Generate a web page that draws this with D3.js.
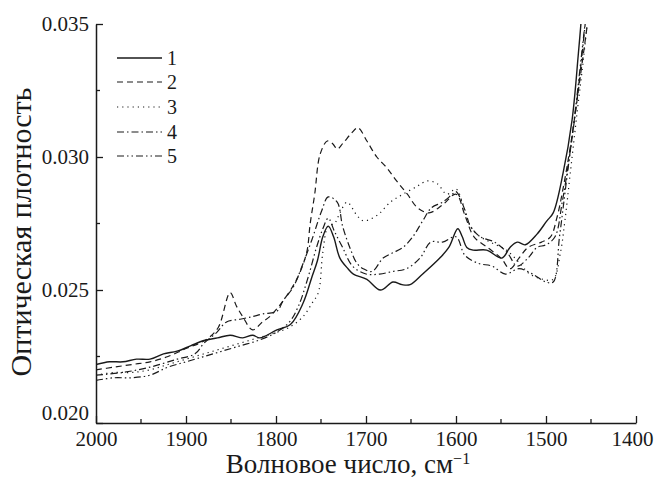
<!DOCTYPE html>
<html>
<head>
<meta charset="utf-8">
<script src="https://cdn.jsdelivr.net/npm/d3@7"></script>
<style>
  body { margin: 0; background: #fff; }
  svg { display: block; }
  svg text { font-family: 'Liberation Serif', 'DejaVu Serif', serif !important; }
</style>
</head>
<body>
<div id="chart"></div>
<script>
// wavenumber (cm-1) and optical density
const series1 = [
  [2000,0.0222],[1985,0.0223],[1970,0.0223],[1955,0.0224],[1940,0.0224],[1925,0.0226],
  [1910,0.0227],[1895,0.0229],[1880,0.0231],[1865,0.0232],[1851,0.0233],[1837,0.0232],
  [1826,0.0233],[1818,0.0232],[1799,0.0235],[1784,0.0237],[1770,0.0245],[1760,0.0255],
  [1754,0.0261],[1748,0.0270],[1742,0.0274],[1736,0.0270],[1729,0.0262],[1720,0.0258],
  [1714,0.0256],[1699,0.0254],[1684,0.0250],[1670,0.0253],[1660,0.0252],[1651,0.0252],
  [1637,0.0256],[1618,0.0262],[1608,0.0266],[1598,0.0273],[1593,0.0270],[1588,0.0266],
  [1581,0.0265],[1566,0.0265],[1549,0.0262],[1540,0.0266],[1532,0.0268],[1523,0.0267],
  [1510,0.0271],[1499,0.0276],[1492,0.0279],[1481,0.0294],[1471,0.0314],[1464,0.0339],
  [1460,0.0355]
];
const series2 = [
  [2000,0.0220],[1980,0.0221],[1960,0.0222],[1940,0.0223],[1920,0.0225],[1900,0.0228],
  [1885,0.0230],[1875,0.0232],[1864,0.0236],[1851,0.0249],[1844,0.0244],[1837,0.0240],
  [1826,0.0235],[1815,0.0238],[1807,0.0240],[1792,0.0246],[1777,0.0254],[1766,0.0264],
  [1762,0.0275],[1757,0.0286],[1751,0.0301],[1743,0.0306],[1737,0.0305],[1732,0.0303],
  [1726,0.0305],[1716,0.0309],[1709,0.0311],[1699,0.0306],[1688,0.0300],[1677,0.0296],
  [1666,0.0291],[1654,0.0286],[1643,0.0281],[1630,0.0279],[1615,0.0282],[1600,0.0286],
  [1590,0.0278],[1580,0.0270],[1565,0.0266],[1550,0.0262],[1540,0.0258],[1530,0.0262],
  [1520,0.0266],[1505,0.0268],[1495,0.0270],[1488,0.0277],[1480,0.0290],[1472,0.0306],
  [1462,0.0330],[1452,0.0355]
];
const series3 = [
  [2000,0.0218],[1980,0.0219],[1960,0.0219],[1940,0.0220],[1920,0.0222],[1900,0.0224],
  [1880,0.0226],[1860,0.0228],[1840,0.0230],[1820,0.0232],[1800,0.0234],[1785,0.0236],
  [1770,0.0240],[1760,0.0245],[1753,0.0249],[1748,0.0264],[1742,0.0274],[1735,0.0275],
  [1729,0.0279],[1721,0.0283],[1710,0.0278],[1703,0.0276],[1688,0.0278],[1673,0.0283],
  [1659,0.0286],[1643,0.0289],[1632,0.0291],[1621,0.0290],[1610,0.0286],[1600,0.0288],
  [1593,0.0283],[1587,0.0276],[1577,0.0271],[1562,0.0268],[1544,0.0265],[1529,0.0260],
  [1518,0.0256],[1503,0.0254],[1492,0.0254],[1484,0.0264],[1479,0.0276],[1473,0.0294],
  [1465,0.0318],[1458,0.0338],[1453,0.0355]
];
const series4 = [
  [2000,0.0218],[1970,0.0219],[1940,0.0221],[1910,0.0224],[1890,0.0226],[1880,0.0230],
  [1866,0.0234],[1855,0.0238],[1840,0.0239],[1826,0.0240],[1815,0.0241],[1799,0.0242],
  [1792,0.0246],[1781,0.0251],[1771,0.0259],[1760,0.0269],[1749,0.0280],[1742,0.0285],
  [1732,0.0283],[1726,0.0274],[1718,0.0266],[1710,0.0260],[1703,0.0258],[1693,0.0257],
  [1681,0.0262],[1670,0.0264],[1659,0.0266],[1648,0.0270],[1637,0.0276],[1627,0.0281],
  [1615,0.0283],[1604,0.0286],[1600,0.0287],[1590,0.0280],[1584,0.0274],[1573,0.0270],
  [1557,0.0268],[1543,0.0264],[1532,0.0259],[1520,0.0262],[1510,0.0266],[1500,0.0267],
  [1490,0.0270],[1482,0.0283],[1474,0.0300],[1464,0.0326],[1455,0.0355]
];
const series5 = [
  [2000,0.0216],[1980,0.0217],[1960,0.0217],[1940,0.0218],[1920,0.0221],[1900,0.0223],
  [1880,0.0225],[1860,0.0227],[1840,0.0229],[1820,0.0231],[1800,0.0234],[1785,0.0238],
  [1775,0.0244],[1765,0.0254],[1755,0.0266],[1748,0.0273],[1742,0.0277],[1735,0.0272],
  [1726,0.0266],[1715,0.0259],[1700,0.0256],[1685,0.0256],[1670,0.0257],[1655,0.0258],
  [1640,0.0262],[1628,0.0268],[1615,0.0268],[1600,0.0270],[1590,0.0263],[1575,0.0260],
  [1560,0.0259],[1545,0.0256],[1530,0.0258],[1515,0.0256],[1500,0.0253],[1492,0.0253],
  [1485,0.0270],[1478,0.0289],[1468,0.0316],[1458,0.0346],[1455,0.0355]
];
const seriesNames = ['1', '2', '3', '4', '5'];
const allSeries = [series1, series2, series3, series4, series5];
const xTicks = [2000, 1900, 1800, 1700, 1600, 1500, 1400];
const xMinor = [1950, 1850, 1750, 1650, 1550, 1450];
const yTicks = [0.020, 0.025, 0.030, 0.035];
const yMinor = [0.0225, 0.0275, 0.0325];

const dashes = [null, '6,4', '1.2,4', '7,3,1.5,3', '7,3,1.5,3,1.5,3'];
const widths = [1.4, 1.2, 1.2, 1.2, 1.2];

const W = 654, H = 480;
const m = {left: 96, right: 18, top: 24, bottom: 57};
const iw = W - m.left - m.right, ih = H - m.top - m.bottom;
const font = "'Liberation Serif', 'DejaVu Serif', serif";

const svg = d3.select('#chart').append('svg')
    .attr('width', W)
    .attr('height', H)
    .attr('font-family', font);

const x = d3.scaleLinear().domain([2000, 1400]).range([m.left, m.left + iw]);
const y = d3.scaleLinear().domain([0.020, 0.035]).range([m.top + ih, m.top]);

svg.append('clipPath').attr('id', 'clip')
  .append('rect')
    .attr('x', m.left).attr('y', m.top)
    .attr('width', iw).attr('height', ih);

const line = d3.line()
    .x(d => x(d[0]))
    .y(d => y(d[1]))
    .curve(d3.curveCatmullRom.alpha(0.5));

const g = svg.append('g').attr('clip-path', 'url(#clip)');
allSeries.forEach((s, i) => {
    g.append('path')
        .attr('d', line(s))
        .attr('fill', 'none')
        .attr('stroke', '#1a1a1a')
        .attr('stroke-width', widths[i])
        .attr('stroke-dasharray', dashes[i]);
});

// axes: ticks point inward
const xAxis = svg.append('g').attr('transform', `translate(0,${m.top + ih})`)
    .call(d3.axisBottom(x).tickValues(xTicks).tickSizeInner(-7).tickSizeOuter(0).tickPadding(8).tickFormat(d3.format('d')));
xAxis.append('g').selectAll('line').data(xMinor).join('line')
    .attr('x1', d => x(d)).attr('x2', d => x(d))
    .attr('y1', 0).attr('y2', -4)
    .attr('stroke', '#1a1a1a').attr('stroke-width', 1.3);
// keep the last label inside the page
xAxis.selectAll('.tick text').filter(d => d === 1400).attr('x', -4);

const yAxis = svg.append('g').attr('transform', `translate(${m.left},0)`)
    .call(d3.axisLeft(y).tickValues(yTicks).tickSizeInner(-7).tickSizeOuter(0).tickPadding(7).tickFormat(d3.format('.3f')));
yAxis.append('g').selectAll('line').data(yMinor).join('line')
    .attr('y1', d => y(d)).attr('y2', d => y(d))
    .attr('x1', 0).attr('x2', 4)
    .attr('stroke', '#1a1a1a').attr('stroke-width', 1.3);
// the lowest label sits a little above the corner
yAxis.selectAll('.tick text').filter(d => d === 0.020).attr('y', -10);

[xAxis, yAxis].forEach(a => {
    a.attr('font-family', font);
    a.select('.domain').attr('stroke', '#1a1a1a').attr('stroke-width', 1.5);
    a.selectAll('.tick line').attr('stroke', '#1a1a1a').attr('stroke-width', 1.3);
    a.selectAll('.tick text')
        .attr('fill', '#1a1a1a')
        .style('font-size', '21px');
});

// axis titles
const xt = svg.append('text')
    .attr('x', 348)
    .attr('y', 473)
    .attr('text-anchor', 'middle')
    .attr('fill', '#1a1a1a')
    .style('font-size', '27px')
    .text('Волновое число, см');
xt.append('tspan')
    .attr('dy', -9)
    .style('font-size', '16px')
    .text('−1');

svg.append('text')
    .attr('transform', `translate(31,${232}) rotate(-90)`)
    .attr('text-anchor', 'middle')
    .attr('fill', '#1a1a1a')
    .style('font-size', '30px')
    .text('Оптическая плотность');

// legend
const legendY = [58, 82, 107, 132, 156];
const lg = svg.append('g');
seriesNames.forEach((name, i) => {
    lg.append('line')
        .attr('x1', 117).attr('x2', 162)
        .attr('y1', legendY[i]).attr('y2', legendY[i])
        .attr('stroke', '#1a1a1a')
        .attr('stroke-width', widths[i])
        .attr('stroke-dasharray', dashes[i]);
    lg.append('text')
        .attr('x', 167)
        .attr('y', legendY[i])
        .attr('dy', '0.35em')
        .attr('fill', '#1a1a1a')
        .style('font-size', '20px')
        .text(name);
});
</script>
</body>
</html>
